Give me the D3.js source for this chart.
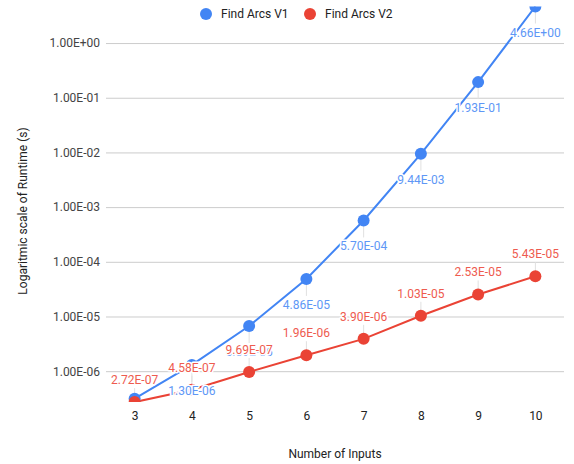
<!DOCTYPE html>
<html>
<head>
<meta charset="utf-8">
<script src="https://cdn.jsdelivr.net/npm/d3@7"></script>
<style>
  html, body { margin: 0; padding: 0; background: #fff; }
  svg { display: block; font-family: Roboto, Arial, sans-serif; }
</style>
</head>
<body>
<svg id="chart"></svg>
<script>
// data
const INPUTS = [3, 4, 5, 6, 7, 8, 9, 10];
const V1 = [3.14e-7, 1.30e-6, 6.69e-6, 4.86e-5, 5.70e-4, 9.44e-3, 1.93e-1, 4.66];
const V2 = [2.72e-7, 4.58e-7, 9.69e-7, 1.96e-6, 3.90e-6, 1.03e-5, 2.53e-5, 5.43e-5];
const SERIES_NAMES = ['Find Arcs V1', 'Find Arcs V2'];
const Y_TICKS = [1e0, 1e-1, 1e-2, 1e-3, 1e-4, 1e-5, 1e-6];

const W = 574, H = 464;
const M = { top: 6.5, right: 10, bottom: 62, left: 106 };
const COLORS = ['#4285f4', '#ea4335'];
const LABEL_COLORS = ['#5e97f6', '#ee5b4f'];

const svg = d3.select('#chart').attr('width', W).attr('height', H);

const x = d3.scalePoint()
  .domain(INPUTS)
  .range([M.left, W - M.right])
  .padding(0.5);

const allVals = V1.concat(V2);
const y = d3.scaleLog()
  .domain([d3.min(allVals), d3.max(allVals)])
  .range([H - M.bottom + 0.1, M.top]);

const fmtExp = v => {
  const e = Math.round(Math.log10(v));
  const s = e < 0 ? '-' : '+';
  return '1.00E' + s + String(Math.abs(e)).padStart(2, '0');
};
const fmtVal = v => {
  const [m, e] = v.toExponential(2).split('e');
  const n = +e;
  return m.toUpperCase() + 'E' + (n < 0 ? '-' : '+') + String(Math.abs(n)).padStart(2, '0');
};

svg.append('defs').append('clipPath').attr('id', 'plot-clip')
  .append('rect')
  .attr('x', M.left).attr('y', y.range()[1])
  .attr('width', W - M.right - M.left)
  .attr('height', y.range()[0] - y.range()[1]);

// grid + y labels
svg.append('g')
  .attr('transform', `translate(${M.left},0)`)
  .call(d3.axisLeft(y).tickValues(Y_TICKS).tickSize(-(W - M.left - M.right)).tickFormat(fmtExp).tickPadding(6))
  .call(g => g.select('.domain').remove())
  .call(g => g.selectAll('.tick line').attr('stroke', '#cccccc'))
  .call(g => g.selectAll('.tick text')
    .attr('fill', '#444')
    .style('font-size', '12px')
    .style('font-family', 'Roboto, Arial, sans-serif'));

// x labels
svg.append('g')
  .attr('transform', `translate(0,${H - M.bottom})`)
  .call(d3.axisBottom(x).tickSize(0).tickPadding(9))
  .call(g => g.select('.domain').remove())
  .call(g => g.selectAll('.tick text')
    .attr('fill', '#222')
    .style('font-size', '12px')
    .style('font-family', 'Roboto, Arial, sans-serif'));

// axis titles
svg.append('text')
  .attr('x', (M.left + W - M.right) / 2)
  .attr('y', 458)
  .attr('text-anchor', 'middle')
  .attr('fill', '#222')
  .style('font-size', '12px')
  .text('Number of Inputs');

svg.append('text')
  .attr('transform', `translate(27,211) rotate(-90)`)
  .attr('text-anchor', 'middle')
  .attr('fill', '#222')
  .style('font-size', '12px')
  .text('Logaritmic scale of Runtime (s)');

const data = [V1, V2];
const bottomY = y.range()[0];

// label placement: V1 below the point, V2 above
const labels = [];
data.forEach((vals, si) => {
  vals.forEach((v, i) => {
    const px = x(INPUTS[i]), py = y(v);
    if (si === 0 && i === 0) return; // hidden under the V2 label in the reference
    labels.push({ si, v, px, py, below: si === 0 });
  });
});

const plot = svg.append('g').attr('clip-path', 'url(#plot-clip)');

// stems
plot.selectAll('.stem')
  .data(labels)
  .enter()
  .append('line')
  .attr('x1', d => d.px).attr('x2', d => d.px)
  .attr('y1', d => d.py)
  .attr('y2', d => d.below ? d.py + 17 : d.py - 14)
  .attr('stroke', '#e0e0e0')
  .attr('stroke-width', 1);

const line = d3.line()
  .x((d, i) => x(INPUTS[i]))
  .y(d => y(d));

data.forEach((vals, si) => {
  plot.append('path')
    .datum(vals)
    .attr('d', line)
    .attr('fill', 'none')
    .attr('stroke', COLORS[si])
    .attr('stroke-width', 2);
});

data.forEach((vals, si) => {
  plot.selectAll('.pt' + si)
    .data(vals)
    .enter()
    .append('circle')
    .attr('cx', (d, i) => x(INPUTS[i]))
    .attr('cy', d => y(d))
    .attr('r', 6)
    .attr('fill', COLORS[si]);
});

// annotations with white aura
svg.append('g')
  .selectAll('text')
  .data(labels)
  .enter()
  .append('text')
  .attr('x', d => d.px)
  .attr('y', d => d.below ? d.py + 30 : d.py - 18)
  .attr('text-anchor', 'middle')
  .attr('fill', d => LABEL_COLORS[d.si])
  .attr('stroke', '#fff')
  .attr('stroke-width', 3)
  .attr('stroke-linejoin', 'round')
  .attr('paint-order', 'stroke')
  .style('font-size', '12px')
  .text(d => fmtVal(d.v));

// legend
const legend = svg.append('g').attr('transform', 'translate(206,14)');
SERIES_NAMES.forEach((name, i) => {
  const g = legend.append('g').attr('transform', `translate(${i * 104},0)`);
  g.append('circle').attr('r', 6).attr('fill', COLORS[i]);
  g.append('text')
    .attr('x', 15)
    .attr('y', 4)
    .attr('fill', '#222')
    .style('font-size', '12px')
    .text(name);
});
</script>
</body>
</html>
